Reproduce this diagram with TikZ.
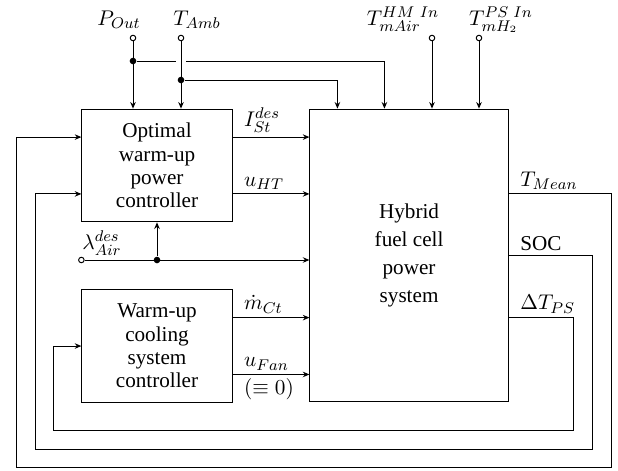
\documentclass[tikz,border=0pt]{standalone}
\usepackage[no-math]{fontspec}
\setmainfont{Liberation Serif}
\usetikzlibrary{positioning, arrows.meta, calc}

\begin{document}
\begin{tikzpicture}[>={Stealth[length=1.2mm, width=1mm]}, x=0.181mm, y=-0.181mm, line width=0.5pt,
  ctrl/.style={draw, minimum width=27.2mm, minimum height=20.4mm, align=center, font=\fontsize{10.9}{12}\selectfont},
  plant/.style={draw, minimum width=35.9mm, minimum height=53mm, align=center, font=\fontsize{10.9}{12}\selectfont},
  port/.style={circle, draw, fill=white, inner sep=0pt, minimum size=1mm},
  junc/.style={circle, fill, inner sep=0pt, minimum size=1.2mm},
  sig/.style={inner sep=2pt, font=\fontsize{10.9}{12}\selectfont},
  outlbl/.style={sig, anchor=south west, xshift=1.3mm}]

  \useasboundingbox (0,0) rectangle (618,470);

  \node[ctrl] (opt) at (157,165.5) {Optimal\\warm-up\\power\\controller};
  \node[ctrl, below=12.1mm of opt] (cool) {Warm-up\\cooling\\system\\controller};
  \node[plant, right=13.9mm of opt.north east, anchor=north west] (hyb) {Hybrid\\[2.4pt]fuel cell\\[2.4pt]power\\[2.4pt]system};

  \coordinate (optA) at ($(opt.north east)!0.25!(opt.south east)$);
  \coordinate (optB) at ($(opt.north east)!0.75!(opt.south east)$);
  \coordinate (optL1) at ($(opt.north west)!0.25!(opt.south west)$);
  \coordinate (optL2) at ($(opt.north west)!0.75!(opt.south west)$);
  \coordinate (coolA) at ($(cool.north east)!0.25!(cool.south east)$);
  \coordinate (coolB) at ($(cool.north east)!0.75!(cool.south east)$);

  \node[port] (pout) at (133,38) {};
  \node[port] (tamb) at (181,38) {};
  \node[port] (tair) at (432,38) {};
  \node[port] (th2) at (479,38) {};
  \node[sig, anchor=base] (lpout) at (119,25) {$P_{Out}$};
  \node[sig, anchor=base] (ltamb) at (197,25) {$T_{Amb}$};
  \node[sig, anchor=base] (ltair) at (403,25) {$T^{HM\ In}_{mAir}$};
  \node[sig, anchor=base] (lth2) at (501,25) {$T^{PS\ In}_{mH_2}$};

  \node[junc] (jpout) at (pout |- 0,61) {};
  \node[junc] (jtamb) at (tamb |- 0,80) {};

  \draw[->] (pout) -- (pout |- opt.north);
  \draw[->] (tamb) -- (tamb |- opt.north);
  \draw (jpout) -- ([xshift=-0.9mm]tamb |- jpout);
  \draw[->] ([xshift=0.9mm]tamb |- jpout) -| ($(hyb.north west)+(75,0)$);
  \draw[->] (jtamb) -| ($(hyb.north west)+(28,0)$);
  \draw[->] (tair) -- (tair |- hyb.north);
  \draw[->] (th2) -- (th2 |- hyb.north);

  \draw[->] (optA) node[outlbl] (list) {$I^{des}_{St}$} -- (optA -| hyb.west);
  \draw[->] (optB) node[outlbl] (luht) {$u_{HT}$} -- (optB -| hyb.west);

  \node[port] (lam) at (opt.west |- 0,260) {};
  \node[sig, anchor=base] (llam) at (102,249) {$\lambda^{des}_{Air}$};
  \node[junc] (jlam) at (opt.south |- lam) {};
  \draw[->] (lam) -- (lam -| hyb.west);
  \draw[->] (jlam) -- (opt.south);

  \draw[->] (coolA) node[outlbl] (lmct) {$\dot m_{Ct}$} -- (coolA -| hyb.west);
  \draw[->] (coolB) node[outlbl] (lufan) {$u_{Fan}$} node[sig, anchor=north west, xshift=1.3mm] (lzero) {$(\equiv 0)$} -- (coolB -| hyb.west);

  \draw[->] (hyb.east |- optB) node[outlbl] (ltmean) {$T_{Mean}$} -| (611,467) -- (16,467) |- (optL1);
  \draw[->] (hyb.east) node[outlbl] (lsoc) {SOC} -| (592,449) -- (35,449) |- (optL2);
  \draw[->] (hyb.east |- coolA) node[outlbl] (ldtps) {$\Delta T_{PS}$} -| (573,430) -- (53,430) |- (cool.west);
\end{tikzpicture}
\end{document}
